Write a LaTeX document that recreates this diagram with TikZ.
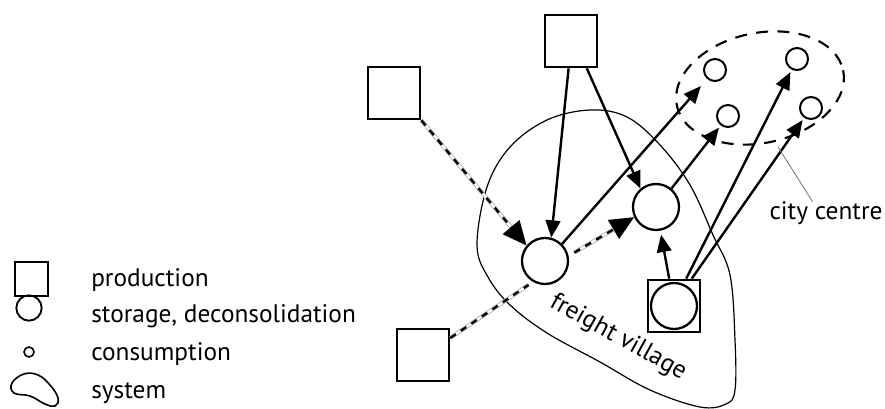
\documentclass[tikz,border=0pt]{standalone}
\usepackage{fontspec}
\setmainfont{PT Sans}
\usetikzlibrary{arrows.meta}

\tikzset{
  prod/.style={draw, line width=2pt, minimum size=39pt, inner sep=0pt, fill=white},
  store/.style={draw, circle, line width=1.7pt, minimum size=34.5pt, inner sep=0pt, fill=white},
  cons/.style={draw, circle, line width=1.5pt, minimum size=16.5pt, inner sep=0pt},
  flow/.style={line width=1.8pt, -{Triangle[length=13pt,width=11pt]}},
  railhead/.style={-{Triangle[length=18pt,width=16pt]}},
  rail/.style={line width=1.8pt, dash pattern=on 5pt off 4.5pt,
    preaction={draw=black!35, line width=2.9pt, solid},
    preaction={draw=white, line width=1.8pt, solid}},
  city/.style={line width=1.6pt, dash pattern=on 9pt off 7pt},
  leader/.style={draw=black!55, line width=0.6pt},
  legtext/.style={font=\fontsize{19}{22}\selectfont, inner sep=0pt},
}

\begin{document}
\begin{tikzpicture}[x=0.75pt,y=0.75pt,yscale=-1,xscale=1]
\useasboundingbox (0,0) rectangle (885,409);

%Shape: freight village boundary
\draw [line width=0.9pt] plot [smooth cycle, tension=0.6] coordinates {(477,245) (487,187) (510,147) (547,120) (590,110) (627,117) (660,145) (690,185) (713,235) (730,275) (735,340) (735,390) (726,404) (700,407) (650,390) (600,362) (547,333) (510,305) (488,277)};
%Shape: city centre
\draw [city, rotate around={-12:(760,88)}] (760,88) ellipse [x radius=85, y radius=55];

% Production
\node [prod] (prodA) at (394,93) {};
\node [prod] (prodB) at (571,41) {};
\node [prod] (prodC) at (423,355) {};
% Storage
\node [store] (storeA) at (545,261) {};
\node [store] (storeB) at (656,207) {};
\node [prod] (hub) at (674,306) {};
\node [store] (storeC) at (hub) {};
% Consumption
\node [cons] (conA) at (715,70) {};
\node [cons] (conB) at (728,116) {};
\node [cons] (conC) at (797,59) {};
\node [cons] (conD) at (811,108) {};

%Rail links
\draw [rail, railhead] (prodA.south east) -- (storeA.140);
\draw [rail, shorten >=4pt] (prodC.32) -- (storeA.240);
\draw [rail, railhead, shorten <=5pt] (storeA.12) -- (storeB.205);
%Road links
\draw [flow] (prodB.265) -- (storeA.75);
\draw [flow] (prodB.300) -- (storeB.130);
\draw [flow, shorten >=7pt] (storeA.45) -- (conA);
\draw [flow, shorten >=2pt] (storeB.50) -- (conB);
\draw [flow, shorten >=3pt] (hub.100) -- (storeB);
\draw [flow, shorten >=2pt] (hub.66) -- (conC);
\draw [flow, shorten >=2pt] (hub.57) -- (conD);

% Text Node
\node [legtext, anchor=base, rotate=-29] (fvlabel) at (615,343) {freight village};
% Text Node
\node [legtext, anchor=base] (citylabel) at (826,220) {city centre};
\coordinate (cityedge) at (778,147);
\draw [leader] (cityedge) -- ([xshift=-10pt]citylabel.north);

% Legend
\node [draw, line width=1.6pt, minimum size=25pt, inner sep=0pt] (legprod) at (31.5,279) {};
\node [draw, circle, line width=1.4pt, minimum size=19pt, inner sep=0pt] (legstore) at (29,308) {};
\node [draw, circle, line width=1.2pt, minimum size=7.5pt, inner sep=0pt] (legcons) at (29,352) {};
\draw [line width=1.2pt] plot [smooth cycle, tension=0.7] coordinates {(12,383) (24,374) (38,375) (50,385) (58,398) (55,406) (45,404) (30,396) (14,393)};
\node [legtext, anchor=base west] (txtprod) at (91,287) {production};
\node [legtext, anchor=base west] (txtstore) at (91,323) {storage, deconsolidation};
\node [legtext, anchor=base west] (txtcons) at (91,361) {consumption};
\node [legtext, anchor=base west] (txtsys) at (91,398) {system};

\end{tikzpicture}
\end{document}
